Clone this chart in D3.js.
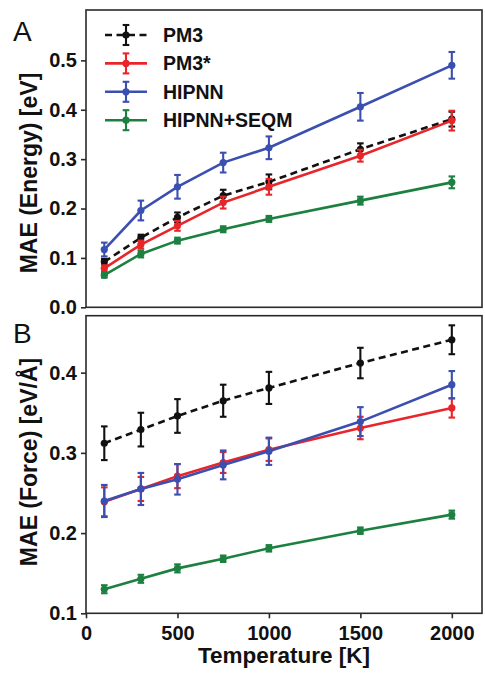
<!DOCTYPE html>
<html>
<head>
<meta charset="utf-8">
<script src="https://cdn.jsdelivr.net/npm/d3@7/dist/d3.min.js"></script>
<style>
  html, body { margin: 0; padding: 0; background: #fff; }
  svg { display: block; font-family: "Liberation Sans", Arial, sans-serif; }
</style>
</head>
<body>
<svg id="chart" width="485" height="673"></svg>
<script>
// Temperatures sampled (K)
const temps = [100, 300, 500, 750, 1000, 1500, 2000];

// Series names and colours
const seriesNames = ["PM3", "PM3*", "HIPNN", "HIPNN+SEQM"];
const seriesColors = ["#111111", "#e8262a", "#3b4fb0", "#1c8040"];

// Energy MAE (eV) and error bar half-widths
const pm3Energy      = [0.092, 0.141, 0.182, 0.226, 0.254, 0.320, 0.381];
const pm3EnergyErr   = [0.006, 0.006, 0.010, 0.012, 0.015, 0.012, 0.015];
const pm3sEnergy     = [0.079, 0.127, 0.165, 0.212, 0.244, 0.307, 0.378];
const pm3sEnergyErr  = [0.006, 0.008, 0.010, 0.012, 0.016, 0.012, 0.020];
const hipnnEnergy    = [0.117, 0.196, 0.244, 0.293, 0.323, 0.406, 0.490];
const hipnnEnergyErr = [0.014, 0.020, 0.024, 0.020, 0.023, 0.028, 0.027];
const seqmEnergy     = [0.065, 0.108, 0.135, 0.158, 0.179, 0.216, 0.253];
const seqmEnergyErr  = [0.005, 0.007, 0.006, 0.006, 0.006, 0.008, 0.012];

// Force MAE (eV/Å) and error bar half-widths
const pm3Force      = [0.312, 0.329, 0.346, 0.365, 0.381, 0.412, 0.441];
const pm3ForceErr   = [0.021, 0.021, 0.021, 0.020, 0.020, 0.019, 0.018];
const pm3sForce     = [0.239, 0.255, 0.271, 0.288, 0.304, 0.331, 0.356];
const pm3sForceErr  = [0.018, 0.015, 0.015, 0.013, 0.014, 0.014, 0.012];
const hipnnForce    = [0.240, 0.255, 0.267, 0.285, 0.302, 0.339, 0.385];
const hipnnForceErr = [0.020, 0.020, 0.019, 0.018, 0.017, 0.018, 0.017];
const seqmForce     = [0.130, 0.143, 0.156, 0.168, 0.181, 0.203, 0.223];
const seqmForceErr  = [0.005, 0.005, 0.005, 0.004, 0.004, 0.004, 0.005];

// Tick values
const xTicks = [0, 500, 1000, 1500, 2000];
const energyTicks = [0.0, 0.1, 0.2, 0.3, 0.4, 0.5];
const forceTicks = [0.1, 0.2, 0.3, 0.4];

const svg = d3.select("#chart");

const left = 86, right = 482;
const x = d3.scaleLinear().domain([0, 2165]).range([left, right]);

const panels = [
  {
    letter: "A", top: 10, bottom: 307.3, domain: [0, 0.602], ticks: energyTicks,
    title: "MAE (Energy) [eV]", titleY: 173,
    values: [pm3Energy, pm3sEnergy, hipnnEnergy, seqmEnergy],
    errors: [pm3EnergyErr, pm3sEnergyErr, hipnnEnergyErr, seqmEnergyErr],
    xAxis: false, legend: true, letterY: 41
  },
  {
    letter: "B", top: 315.7, bottom: 613.3, domain: [0.1, 0.471], ticks: forceTicks,
    title: "MAE (Force) [eV/Å]", titleY: 462,
    values: [pm3Force, pm3sForce, hipnnForce, seqmForce],
    errors: [pm3ForceErr, pm3sForceErr, hipnnForceErr, seqmForceErr],
    xAxis: true, legend: false, letterY: 343
  }
];

function drawErrorSeries(g, y, vals, errs, color, dashed) {
  const pts = temps.map((t, i) => ({ t, v: vals[i], e: errs[i] }));
  const line = d3.line().x(d => x(d.t)).y(d => y(d.v));
  g.append("path")
    .datum(pts)
    .attr("d", line)
    .attr("fill", "none")
    .attr("stroke", color)
    .attr("stroke-width", 2.6)
    .attr("stroke-dasharray", dashed ? "7,4.5" : null);
  const eb = g.append("g").attr("stroke", color).attr("stroke-width", 2.1);
  pts.forEach(d => {
    const cx = x(d.t), y0 = y(d.v - d.e), y1 = y(d.v + d.e);
    eb.append("line").attr("x1", cx).attr("x2", cx).attr("y1", y0).attr("y2", y1);
    eb.append("line").attr("x1", cx - 3.3).attr("x2", cx + 3.3).attr("y1", y0).attr("y2", y0);
    eb.append("line").attr("x1", cx - 3.3).attr("x2", cx + 3.3).attr("y1", y1).attr("y2", y1);
  });
  g.append("g").selectAll("circle").data(pts).join("circle")
    .attr("cx", d => x(d.t)).attr("cy", d => y(d.v)).attr("r", 3.6)
    .attr("fill", color);
}

panels.forEach(p => {
  const y = d3.scaleLinear().domain(p.domain).range([p.bottom, p.top]);
  const g = svg.append("g");

  // Series: first in list drawn first
  p.values.forEach((vals, i) => {
    drawErrorSeries(g, y, vals, p.errors[i], seriesColors[i], i === 0);
  });

  // Frame
  g.append("rect")
    .attr("x", left).attr("y", p.top)
    .attr("width", right - left).attr("height", p.bottom - p.top)
    .attr("fill", "none").attr("stroke", "#2a2a2a").attr("stroke-width", 1.6);

  // Y axis
  const yAxis = d3.axisLeft(y).tickValues(p.ticks).tickFormat(d3.format(".1f"))
    .tickSize(5).tickPadding(4);
  const ya = g.append("g").attr("transform", `translate(${left},0)`).call(yAxis);
  ya.select(".domain").remove();
  ya.selectAll("line").attr("stroke", "#2a2a2a").attr("stroke-width", 1.6);
  ya.selectAll("text").attr("font-size", 20).attr("font-weight", "bold")
    .attr("fill", "#111").attr("font-family", "Liberation Sans, Arial, sans-serif");

  // X axis (bottom panel only)
  if (p.xAxis) {
    const xAxis = d3.axisBottom(x).tickValues(xTicks).tickFormat(d3.format("d"))
      .tickSize(5).tickPadding(8);
    const xa = g.append("g").attr("transform", `translate(0,${p.bottom})`).call(xAxis);
    xa.select(".domain").remove();
    xa.selectAll("line").attr("stroke", "#2a2a2a").attr("stroke-width", 1.6);
    xa.selectAll("text").attr("font-size", 20).attr("font-weight", "bold")
      .attr("fill", "#111").attr("font-family", "Liberation Sans, Arial, sans-serif");
    g.append("text")
      .attr("x", (left + right) / 2).attr("y", 663)
      .attr("text-anchor", "middle").attr("font-size", 22.5).attr("font-weight", "bold")
      .attr("fill", "#111")
      .text("Temperature [K]");
  }

  // Y title
  g.append("text")
    .attr("transform", `translate(37,${p.titleY}) rotate(-90)`)
    .attr("text-anchor", "middle").attr("font-size", 23).attr("font-weight", "bold")
    .attr("fill", "#111")
    .text(p.title);

  // Panel letter
  g.append("text")
    .attr("x", 13).attr("y", p.letterY)
    .attr("font-size", 28).attr("fill", "#111")
    .text(p.letter);

  // Legend
  if (p.legend) {
    const lg = g.append("g");
    seriesNames.forEach((name, i) => {
      const cy = 35 + i * 28.4;
      const c = seriesColors[i];
      lg.append("line").attr("x1", 105).attr("x2", 147).attr("y1", cy).attr("y2", cy)
        .attr("stroke", c).attr("stroke-width", 2.6)
        .attr("stroke-dasharray", i === 0 ? "7,4.5" : null);
      lg.append("line").attr("x1", 126).attr("x2", 126).attr("y1", cy - 10).attr("y2", cy + 10)
        .attr("stroke", c).attr("stroke-width", 2.1);
      [cy - 10, cy + 10].forEach(yy => {
        lg.append("line").attr("x1", 122.7).attr("x2", 129.3).attr("y1", yy).attr("y2", yy)
          .attr("stroke", c).attr("stroke-width", 2.1);
      });
      lg.append("circle").attr("cx", 126).attr("cy", cy).attr("r", 3.6).attr("fill", c);
      lg.append("text").attr("x", 163).attr("y", cy + 7)
        .attr("font-size", 19.5).attr("font-weight", "bold").attr("fill", "#111")
        .text(name);
    });
  }
});
</script>
</body>
</html>
